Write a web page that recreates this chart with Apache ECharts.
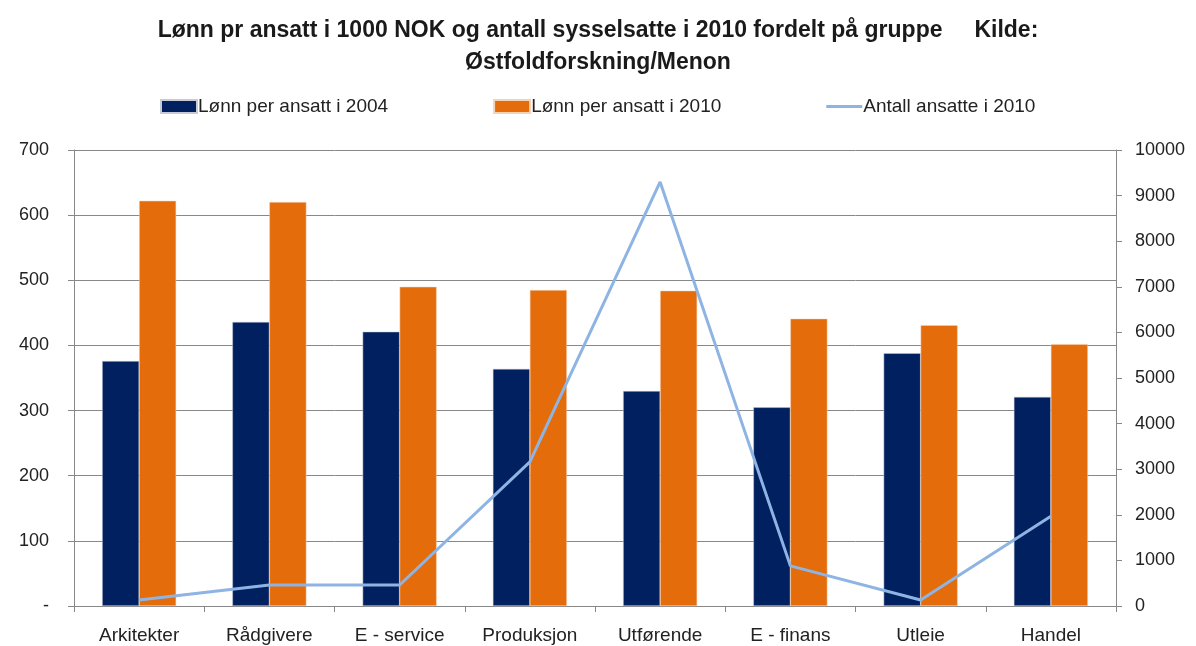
<!DOCTYPE html>
<html>
<head>
<meta charset="utf-8">
<script src="https://cdn.jsdelivr.net/npm/echarts@6/dist/echarts.min.js"></script>
<style>
  html, body { margin: 0; padding: 0; background: #fff; }
  #chart { width: 1196px; height: 646px; }
</style>
</head>
<body>
<div id="chart"></div>
<script>
const categories = ['Arkitekter', 'Rådgivere', 'E - service', 'Produksjon', 'Utførende', 'E - finans', 'Utleie', 'Handel']
const lonn2004 = [376, 436, 421, 364, 330, 305, 388, 321]
const lonn2010 = [622, 620, 490, 485, 484, 441, 431, 402]
const ansatte2010 = [130, 460, 460, 3160, 9300, 880, 130, 1970]

const font = 'Liberation Sans, Arial, sans-serif'
const chart = echarts.init(document.getElementById('chart'))

const option = {
  animation: false,
  textStyle: { fontFamily: font },
  title: {
    text: 'Lønn pr ansatt i 1000 NOK og antall sysselsatte i 2010 fordelt på gruppe     Kilde:\nØstfoldforskning/Menon',
    left: 'center',
    top: 10,
    textStyle: { fontSize: 23, fontWeight: 'bold', color: '#1a1a1a', lineHeight: 32, fontFamily: font, align: 'center' }
  },
  legend: {
    top: 92,
    left: 155,
    itemGap: 105,
    itemWidth: 36,
    itemHeight: 13,
    textStyle: { fontSize: 19, color: '#222', padding: [0, 0, 0, -4] },
    data: [
      { name: 'Lønn per ansatt i 2004', icon: 'rect' },
      { name: 'Lønn per ansatt i 2010', icon: 'rect' },
      { name: 'Antall ansatte i 2010', icon: 'path://M0,0 L36,0 L36,3 L0,3 Z', itemStyle: { color: '#8eb4e3' } }
    ]
  },
  grid: { left: 74, right: 80, top: 150, bottom: 40, containLabel: false },
  xAxis: {
    type: 'category',
    data: categories,
    axisLine: { lineStyle: { color: '#888' } },
    axisTick: { show: true, lineStyle: { color: '#888' }, length: 6 },
    axisLabel: { fontSize: 19, color: '#222', margin: 20 }
  },
  yAxis: [
    {
      type: 'value',
      min: 0,
      max: 700,
      interval: 100,
      axisLine: { show: true, lineStyle: { color: '#888' } },
      axisTick: { show: true, inside: false, length: 6, lineStyle: { color: '#888' } },
      axisLabel: { fontSize: 18, color: '#222', margin: 25, formatter: v => v === 0 ? '-' : v },
      splitLine: { lineStyle: { color: '#888' } }
    },
    {
      type: 'value',
      min: 0,
      max: 10000,
      interval: 1000,
      axisLine: { show: true, lineStyle: { color: '#888' } },
      axisTick: { show: true, length: 6, lineStyle: { color: '#888' } },
      axisLabel: { fontSize: 18, color: '#222', margin: 19, formatter: v => String(v) },
      splitLine: { show: false }
    }
  ],
  series: [
    {
      name: 'Lønn per ansatt i 2004',
      type: 'bar',
      data: lonn2004,
      barWidth: 37,
      barGap: '0%',
      itemStyle: { color: '#002060', borderColor: '#c8cbd6', borderWidth: 0.5 }
    },
    {
      name: 'Lønn per ansatt i 2010',
      type: 'bar',
      data: lonn2010,
      barWidth: 37,
      itemStyle: { color: '#e46c0a', borderColor: '#f4d2b6', borderWidth: 0.5 }
    },
    {
      name: 'Antall ansatte i 2010',
      type: 'line',
      yAxisIndex: 1,
      data: ansatte2010,
      symbol: 'none',
      lineStyle: { color: '#8eb4e3', width: 3 },
      itemStyle: { color: '#8eb4e3' }
    }
  ]
}
chart.setOption(option)
</script>
</body>
</html>
